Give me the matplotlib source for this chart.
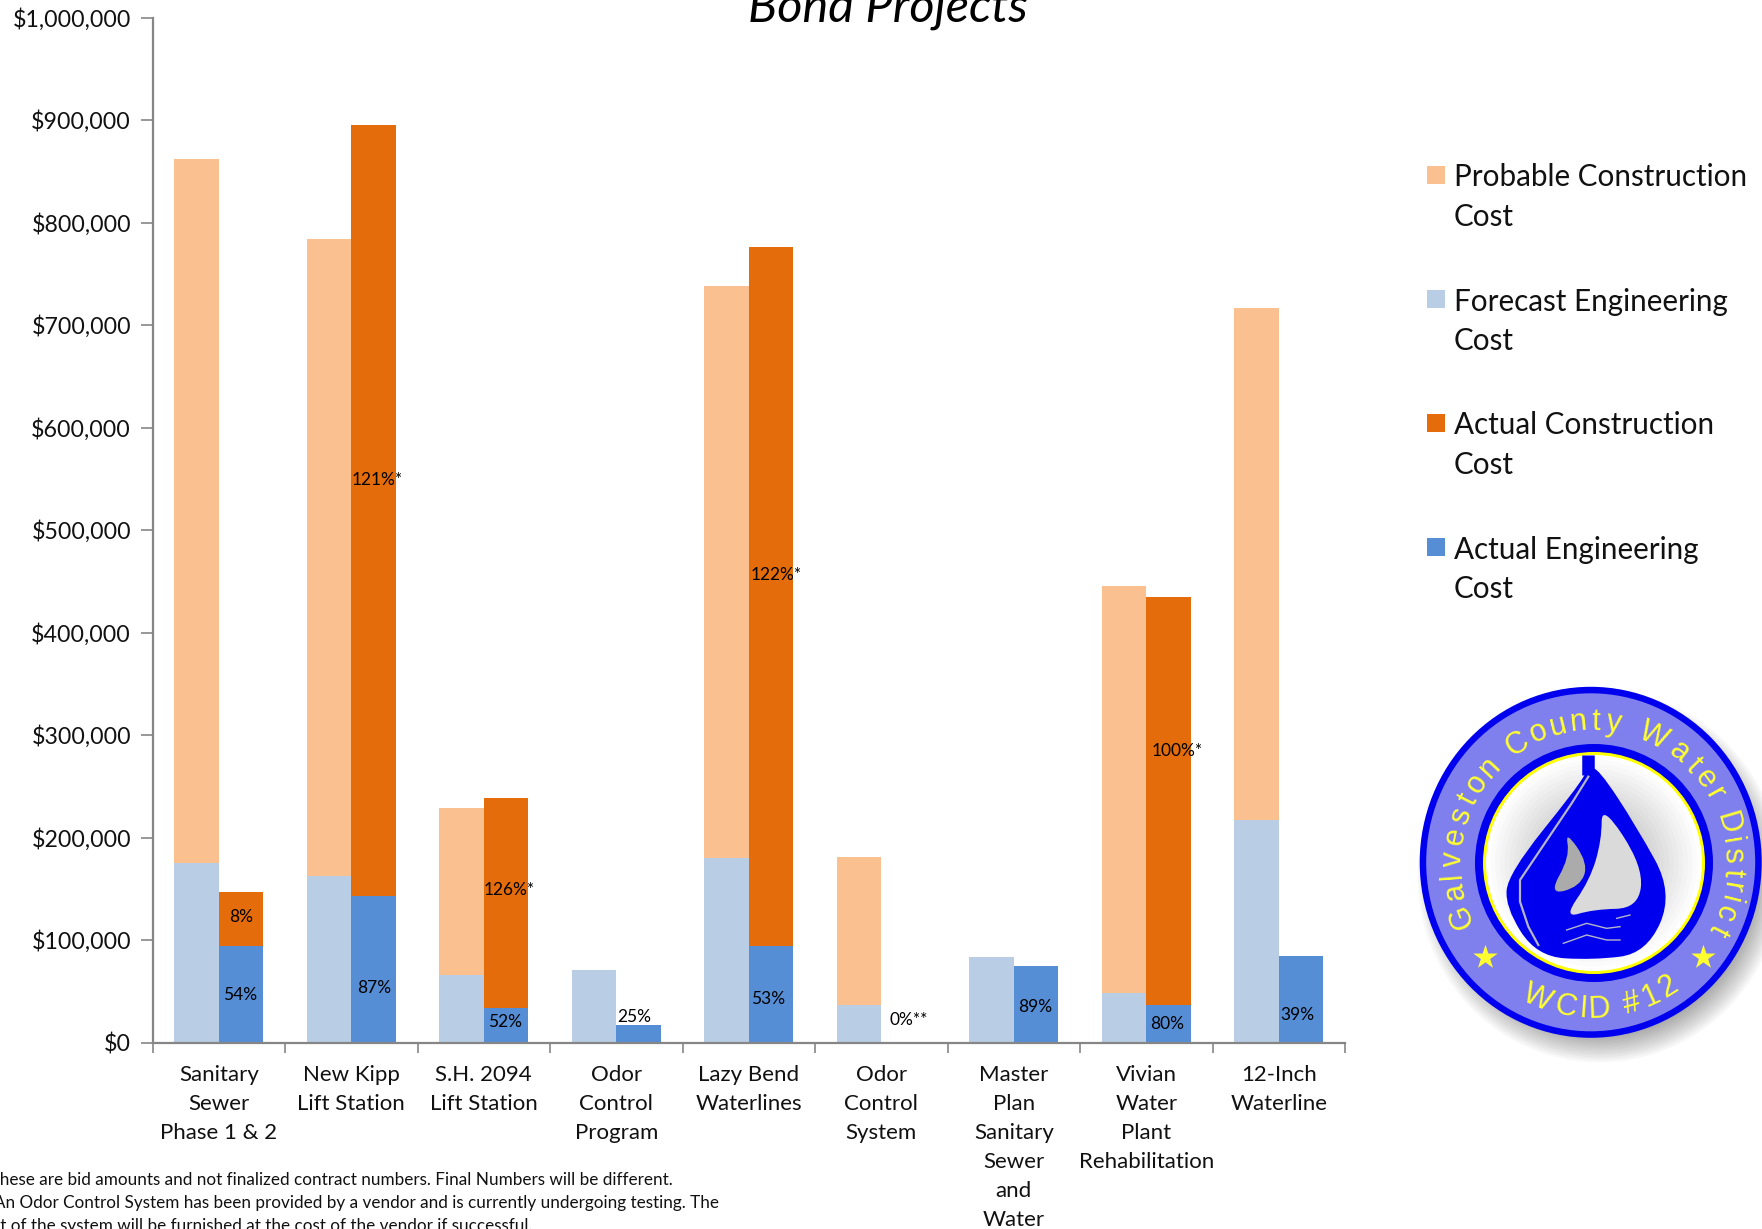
import numpy as np
import matplotlib
matplotlib.use('Agg')
import matplotlib.pyplot as plt
from matplotlib.patches import Circle, Ellipse, PathPatch, Rectangle
from matplotlib.path import Path
from matplotlib.textpath import TextPath
from matplotlib.font_manager import FontProperties

plt.rcParams['font.family'] = ['Lato', 'DejaVu Sans']

# data
categories = ['Sanitary\nSewer\nPhase 1 & 2', 'New Kipp\nLift Station', 'S.H. 2094\nLift Station',
              'Odor\nControl\nProgram', 'Lazy Bend\nWaterlines', 'Odor\nControl\nSystem',
              'Master\nPlan\nSanitary\nSewer\nand\nWater', 'Vivian\nWater\nPlant\nRehabilitation',
              '12-Inch\nWaterline']
forecast_eng = [175000, 162000, 66000, 71000, 180000, 37000, 83000, 48000, 217000]
probable_con = [687000, 622000, 163000, 0, 558000, 144000, 0, 397000, 500000]
actual_eng = [94000, 143000, 34000, 17500, 94000, 0, 74500, 37000, 84000]
actual_con = [53000, 752000, 205000, 0, 682000, 0, 0, 398000, 0]

pct_text = ['8%', '54%', '121%*', '87%', '126%*', '52%', '25%', '122%*', '53%', '0%**', '89%', '100%*', '80%', '39%']
pct_cat = [0, 0, 1, 1, 2, 2, 3, 4, 4, 5, 6, 7, 7, 8]
pct_y = [122000, 46000, 549000, 53000, 149000, 20000, 25000, 456000, 42000, 22000, 35000, 284000, 18000, 27000]
pct_dx = [0.17, 0.16, 0.195, 0.175, 0.195, 0.16, 0.135, 0.21, 0.145, 0.205, 0.16, 0.23, 0.16, 0.14]

yticks = np.arange(0, 1000001, 100000)
legend_labels = ['Probable Construction\nCost', 'Forecast Engineering\nCost', 'Actual Construction\nCost', 'Actual Engineering\nCost']
footnotes = ['* These are bid amounts and not finalized contract numbers. Final Numbers will be different.',
             '** An Odor Control System has been provided by a vendor and is currently undergoing testing. The',
             'cost of the system will be furnished at the cost of the vendor if successful.']

c_prob, c_fore, c_acon, c_aeng = '#FBC08F', '#B9CDE5', '#E46C0A', '#558ED5'
legend_colors = [c_prob, c_fore, c_acon, c_aeng]
W, H = 1762, 1229

fig = plt.figure(figsize=(W / 100, H / 100), dpi=100)
ax = fig.add_axes([152.5 / W, 1 - 1042.5 / H, (1345 - 152.5) / W, (1042.5 - 17.5) / H])

# bars
x = np.arange(len(categories))
w = 0.335
ax.bar(x - w / 2, forecast_eng, w, color=c_fore)
ax.bar(x - w / 2, probable_con, w, bottom=forecast_eng, color=c_prob)
ax.bar(x + w / 2, actual_eng, w, color=c_aeng)
ax.bar(x + w / 2, actual_con, w, bottom=actual_eng, color=c_acon)

for t, c, y, dx in zip(pct_text, pct_cat, pct_y, pct_dx):
    ax.text(c + dx, y, t, ha='center', va='center', fontsize=12.5, color='black')

ax.set_xlim(-0.5, len(categories) - 0.5)
ax.set_ylim(0, 1000000)
ax.set_yticks(yticks)
ax.set_yticklabels(['${:,}'.format(int(v)) for v in yticks], fontsize=16.7, color='#111111')
ax.set_xticks(x)
ax.set_xticklabels(categories, fontsize=16, color='#111111', linespacing=1.56)
ax.set_xticks(np.arange(len(categories) + 1) - 0.5, minor=True)
ax.tick_params(axis='x', which='major', length=0, pad=16)
ax.tick_params(axis='x', which='minor', length=7, width=1.2, color='#868686')
ax.tick_params(axis='y', length=8.5, width=1.2, color='#868686', pad=7)
for s in ['top', 'right']:
    ax.spines[s].set_visible(False)
for s in ['left', 'bottom']:
    ax.spines[s].set_color('#868686')
    ax.spines[s].set_linewidth(1.6)

# overlay in pixel coordinates: title, legend, notes, logo
px = fig.add_axes([0, 0, 1, 1], facecolor='none')
px.set_xlim(0, W)
px.set_ylim(H, 0)
px.axis('off')

px.text(888, 22, 'Bond Projects', ha='center', va='baseline', fontsize=35, style='italic', color='black')

for i, (lab, col) in enumerate(zip(legend_labels, legend_colors)):
    ytop = 175 + i * 124
    px.add_patch(Rectangle((1427, ytop - 9), 18, 18, color=col, lw=0))
    px.text(1454, ytop - 11.5, lab, ha='left', va='top', fontsize=21.3, color='#111111', linespacing=1.5)

for i, line in enumerate(footnotes):
    left = [-22, -25, -25][i]
    px.text(left, 1185 + i * 23, line, ha='left', va='baseline', fontsize=12.35, color='#111111')

# logo
cx, cy = 1590.7, 862.3


def zp(points):
    return [(1380 + a / 3, 660 + b / 3) for a, b in points]


def smooth_patch(points, color, closed=True):
    # quadratic curves through the midpoints, so the outlines stay round
    p = np.array(zp(points))
    mids = (p + np.roll(p, -1, axis=0)) / 2
    verts = [mids[-1]]
    codes = [Path.MOVETO]
    for a, b in zip(p, mids):
        verts += [a, b]
        codes += [Path.CURVE3, Path.CURVE3]
    return PathPatch(Path(verts, codes), facecolor=color, lw=0)


for k in range(16):
    px.add_patch(Ellipse((cx + 9, cy + 14), 2 * (182 - k * 2.4), 2 * (186 - k * 2.4), color='black', alpha=0.03, lw=0))
px.add_patch(Ellipse((cx, cy), 342, 351, color='#0000EE', lw=0))
px.add_patch(Ellipse((cx, cy), 329, 338, color='#7F7FEE', lw=0))
px.add_patch(Circle((1594, 863), 119, color='#0000EE', lw=0))
px.add_patch(Circle((1594, 863), 111, color='#FFFF00', lw=0))
for k in range(20):
    g = 1.0 - 0.3 * k / 19
    px.add_patch(Circle((1594, 863), 108 - k * 4.7, color=(g, g, g), lw=0))

# the stem is a straight stroke above the drop
px.plot(*zip(*zp([(625, 285), (625, 345)])), color='#0000EE', lw=9, solid_capstyle='butt')
drop = [(655, 325), (770, 500), (880, 700), (800, 880), (640, 900), (470, 890), (375, 740), (385, 640), (590, 385), (625, 325)]
px.add_patch(smooth_patch(drop, '#0000EE'))
edge = [(625, 350), (575, 430), (420, 660), (420, 725), (445, 800), (475, 855)]
px.plot(*zip(*zp(edge)), color='#B5B5C8', lw=1.6)
sail_r = [(665, 430), (790, 620), (775, 745), (640, 748), (550, 775), (630, 660), (665, 540)]
sail_l = [(555, 510), (625, 610), (600, 680), (505, 705), (570, 590)]
px.add_patch(smooth_patch(sail_r, '#DADADA'))
px.add_patch(smooth_patch(sail_l, '#ABABAB'))
for w_pts in [[(560, 810), (620, 790), (680, 805), (720, 800)], [(550, 850), (620, 825), (680, 840), (720, 840)],
              [(710, 775), (750, 765)]]:
    px.plot(*zip(*zp(w_pts)), color='#B5B5C8', lw=1)

logo_font = FontProperties(family='Liberation Sans', size=22)


def arc_text(s, a0, a1, r, flip=False):
    # letters are spaced along the arc by their own widths
    widths = np.array([7.0 if ch == ' ' else TextPath((0, 0), ch, prop=logo_font).get_extents().width + 3.5 for ch in s])
    pos = (np.cumsum(widths) - widths / 2) / widths.sum()
    for ch, p in zip(s, pos):
        a = np.radians(a0 + (a1 - a0) * p)
        tx, ty = cx + 2 + r * np.cos(a), cy + 2 - r * 1.02 * np.sin(a)
        rot = np.degrees(a) + (90 if flip else -90)
        px.text(tx, ty, ch, rotation=rot, rotation_mode='anchor', ha='center', va='baseline',
                color='#FFFF30', fontproperties=logo_font)


arc_text('Galveston County Water District', 207, -30, 132)
arc_text('WCID #12', 240, 306, 150, flip=True)
px.scatter(*zip(*zp([(315, 890), (970, 890)])), marker='*', s=340, color='#FFFF30', linewidths=0)

fig.savefig('out.png', dpi=100)
